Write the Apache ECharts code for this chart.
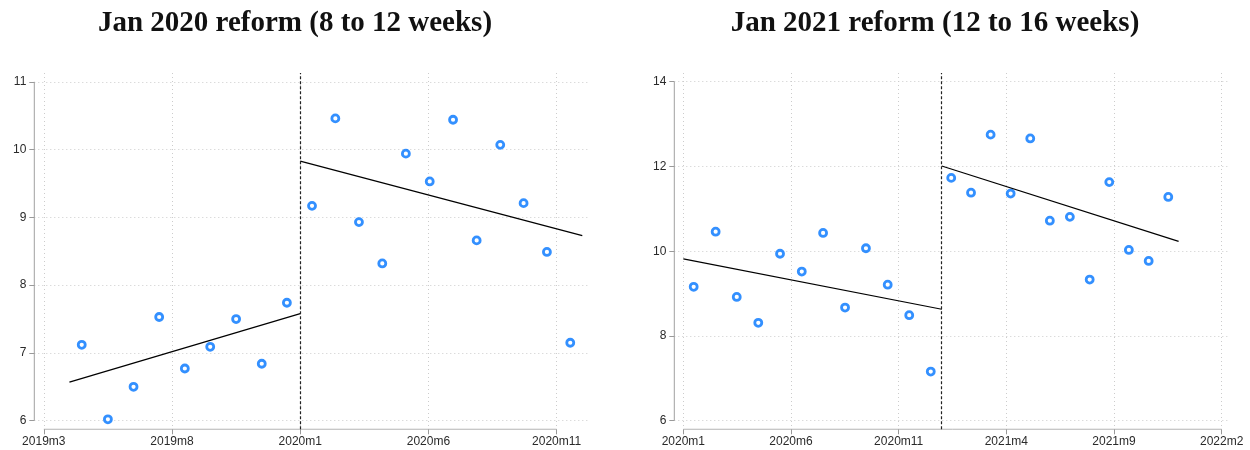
<!DOCTYPE html>
<html lang="en">
<head>
    <meta charset="UTF-8">
    <title>Reform RD plots</title>
    <script src="https://cdn.jsdelivr.net/npm/echarts@6/dist/echarts.min.js"></script>
    <style>
        body { margin: 0; background: #fff; }
    </style>
</head>
<body>
    <div id="myChart" style="width: 1250px;height: 450px;"></div>
    <script>
        // months are counted as year*12 + (month-1)
        var titles = ['Jan 2020 reform (8 to 12 weeks)', 'Jan 2021 reform (12 to 16 weeks)'];
        var cutoffs = [2020 * 12, 2021 * 12];

        // x positions are months relative to the cutoff
        var pre2020X = [-8.52, -7.5, -6.5, -5.5, -4.5, -3.51, -2.5, -1.5, -0.52];
        var pre2020Y = [7.12, 6.02, 6.50, 7.53, 6.77, 7.09, 7.50, 6.84, 7.74];
        var post2020X = [0.46, 1.37, 2.29, 3.20, 4.12, 5.05, 5.96, 6.88, 7.80, 8.71, 9.62, 10.53];
        var post2020Y = [9.17, 10.46, 8.93, 8.32, 9.94, 9.53, 10.44, 8.66, 10.07, 9.21, 8.49, 7.15];
        var fitPre2020 = [[-9, 6.57], [0, 7.58]];
        var fitPost2020 = [[0, 9.83], [11, 8.73]];

        var pre2021X = [-11.52, -10.5, -9.52, -8.52, -7.51, -6.5, -5.51, -4.49, -3.52, -2.51, -1.51, -0.51];
        var pre2021Y = [9.16, 10.46, 8.92, 8.31, 9.94, 9.52, 10.43, 8.67, 10.07, 9.21, 8.49, 7.16];
        var post2021X = [0.44, 1.36, 2.27, 3.20, 4.11, 5.02, 5.95, 6.87, 7.78, 8.69, 9.61, 10.52];
        var post2021Y = [11.73, 11.38, 12.75, 11.36, 12.66, 10.72, 10.81, 9.33, 11.63, 10.03, 9.77, 11.28];
        var fitPre2021 = [[-12, 9.82], [0, 8.63]];
        var fitPost2021 = [[0, 12.01], [11, 10.23]];

        // tick labels
        var xTicks2020 = ['2019m3', '2019m8', '2020m1', '2020m6', '2020m11'];
        var yTicks2020 = [6, 7, 8, 9, 10, 11];
        var xTicks2021 = ['2020m1', '2020m6', '2020m11', '2021m4', '2021m9', '2022m2'];
        var yTicks2021 = [6, 8, 10, 12, 14];

        function toMonth(s) {
            var p = s.split('m');
            return +p[0] * 12 + (+p[1] - 1);
        }
        function fmtMonth(v) {
            var y = Math.floor(Math.round(v) / 12);
            return y + 'm' + (Math.round(v) - y * 12 + 1);
        }
        function pts(xs, ys, c) {
            return xs.map(function (x, i) { return [c + x, ys[i]]; });
        }
        function fit(line, c) {
            return line.map(function (p) { return [c + p[0], p[1]]; });
        }

        var panels = [
            { xt: xTicks2020.map(toMonth), yt: yTicks2020, c: cutoffs[0],
              xr: [-0.37, 21.3], yr: [5.873, 11.13],
              pre: [pre2020X, pre2020Y], post: [post2020X, post2020Y], fits: [fitPre2020, fitPost2020] },
            { xt: xTicks2021.map(toMonth), yt: yTicks2021, c: cutoffs[1],
              xr: [-0.42, 25.34], yr: [5.797, 14.205],
              pre: [pre2021X, pre2021Y], post: [post2021X, post2021Y], fits: [fitPre2021, fitPost2021] }
        ];

        var grids = [{ left: 34.3, right: 660, top: 73, bottom: 20.7 },
                     { left: 674.3, right: 21, top: 73, bottom: 20.7 }];
        var titleCenters = [290, 930];

        var labelStyle = { color: '#2a2a2a', fontSize: 12, fontFamily: 'Liberation Sans' };
        var gridLine = { show: true, lineStyle: { color: '#cccccc', type: [1, 3], width: 1 } };

        var xAxes = [], yAxes = [], series = [], titleList = [];
        panels.forEach(function (p, k) {
            var x0 = p.xt[0];
            titleList.push({
                text: titles[k], left: titleCenters[k], top: 4, textAlign: 'center',
                textStyle: { fontFamily: 'Liberation Serif', fontWeight: 'bold', fontSize: 29, color: '#111' }
            });
            xAxes.push({
                type: 'value', gridIndex: k, min: x0 + p.xr[0], max: x0 + p.xr[1],
                axisLine: { show: false },
                axisTick: { show: true, customValues: p.xt, length: 5, lineStyle: { color: '#999' } },
                axisLabel: Object.assign({ customValues: p.xt, margin: 6, formatter: fmtMonth }, labelStyle),
                splitLine: gridLine
            });
            yAxes.push({
                type: 'value', gridIndex: k, min: p.yr[0], max: p.yr[1],
                axisLine: { show: false },
                axisTick: { show: true, customValues: p.yt, length: 5, lineStyle: { color: '#999' } },
                axisLabel: Object.assign({ customValues: p.yt, margin: 8 }, labelStyle),
                splitLine: gridLine
            });
            // axis lines spanning the tick range only
            var xl = p.xt[p.xt.length - 1], yl = p.yt[p.yt.length - 1];
            series.push({
                type: 'line', xAxisIndex: k, yAxisIndex: k, silent: true, symbol: 'none',
                lineStyle: { color: '#a0a0a0', width: 1 },
                data: [[p.xt[0], p.yr[0]], [xl, p.yr[0]], null, [x0 + p.xr[0], p.yt[0]], [x0 + p.xr[0], yl]]
            });
            [p.pre, p.post].forEach(function (s) {
                series.push({
                    type: 'scatter', xAxisIndex: k, yAxisIndex: k, symbol: 'circle', symbolSize: 7,
                    itemStyle: { color: '#ffffff', borderColor: '#0074ff', borderWidth: 2.8 },
                    data: pts(s[0], s[1], p.c)
                });
            });
            p.fits.forEach(function (f, j) {
                var s = {
                    type: 'line', xAxisIndex: k, yAxisIndex: k, symbol: 'none', silent: true,
                    lineStyle: { color: '#000', width: 1.2 },
                    data: fit(f, p.c)
                };
                if (j === 0) {
                    s.markLine = {
                        symbol: 'none', silent: true, label: { show: false },
                        lineStyle: { color: '#222', type: [3, 2], width: 1.2 },
                        data: [{ xAxis: p.c }]
                    };
                }
                series.push(s);
            });
        });

        var myChart = echarts.init(document.getElementById('myChart'));
        var option = {
            animation: false,
            backgroundColor: '#fff',
            title: titleList,
            grid: grids,
            xAxis: xAxes,
            yAxis: yAxes,
            series: series
        };
        myChart.setOption(option);
    </script>
</body>
</html>
